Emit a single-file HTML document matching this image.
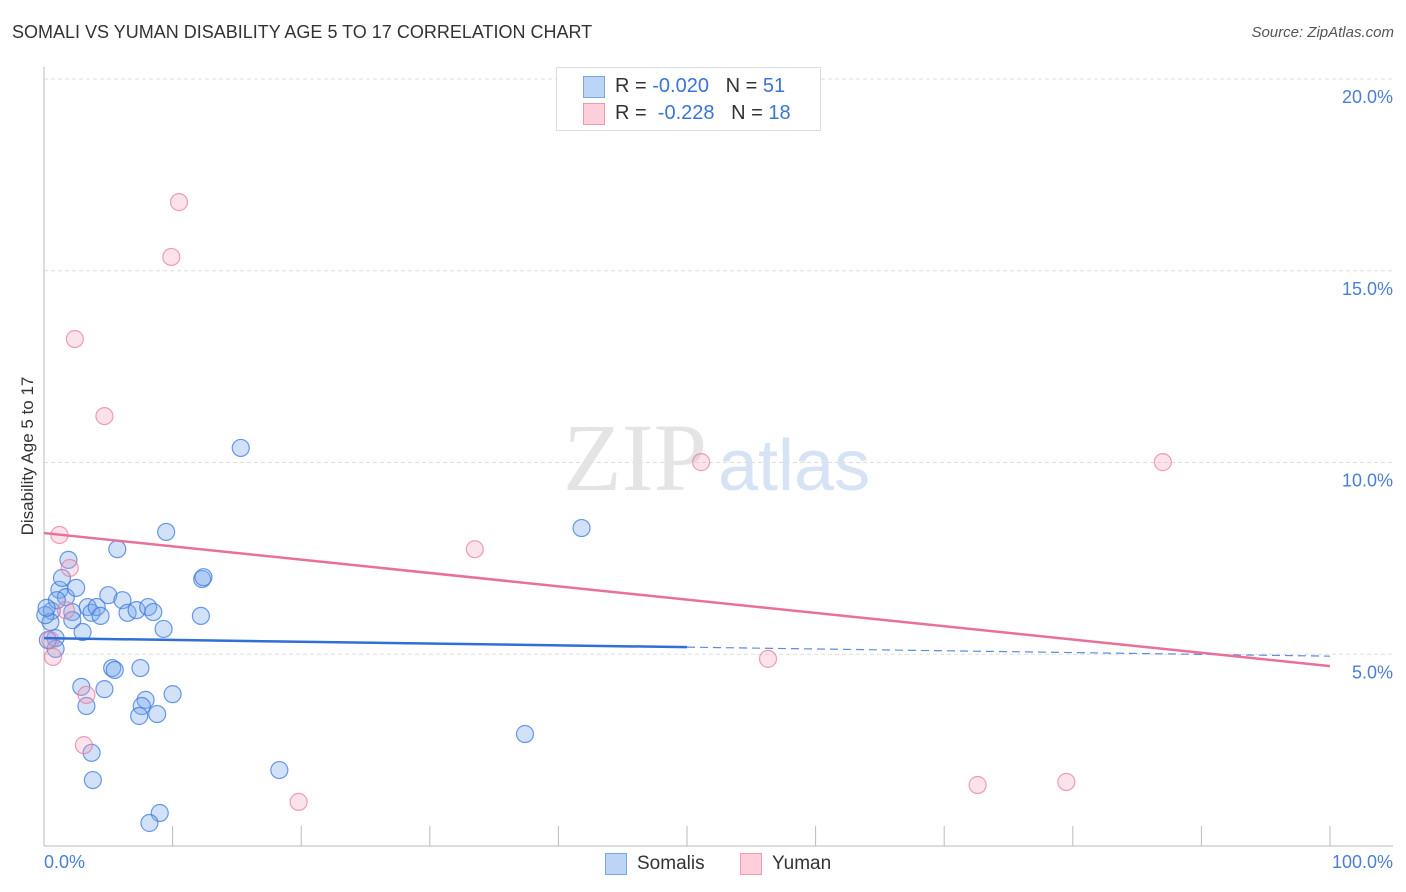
<!DOCTYPE html>
<html><head><meta charset="utf-8"><style>
body{margin:0;background:#fff;font-family:"Liberation Sans",sans-serif;}
#wrap{position:relative;width:1406px;height:892px;overflow:hidden;}
.t{position:absolute;white-space:nowrap;}
</style></head><body>
<div id="wrap">
<div class="t" style="left:12px;top:22px;font-size:18px;color:#333;">SOMALI VS YUMAN DISABILITY AGE 5 TO 17 CORRELATION CHART</div>
<div class="t" style="right:12px;top:24px;font-size:15px;color:#555;font-style:italic;">Source: ZipAtlas.com</div>
<svg id="svg" width="1406" height="892" style="position:absolute;left:0;top:0"></svg>
</div>
<script>
const somaliX=[0.6,0.5,0.9,0.9,1.2,1.4,1.9,1.7,2.2,2.2,2.5,3.0,3.4,3.7,4.1,4.4,5.0,5.7,6.1,6.5,7.2,8.1,8.5,9.3,9.5,12.3,12.4,12.2,15.3,41.8,37.4,5.3,5.5,7.5,2.9,4.7,3.3,7.9,7.6,7.4,8.8,10.0,3.7,3.8,18.3,9.0,8.2,1.0,0.1,0.2,0.3];
const somaliY=[6.13,5.84,5.42,5.14,6.68,6.99,7.46,6.49,6.10,5.89,6.73,5.58,6.23,6.08,6.23,6.00,6.54,7.74,6.41,6.08,6.15,6.23,6.10,5.66,8.19,6.96,7.01,6.00,10.38,8.29,2.92,4.64,4.59,4.64,4.15,4.09,3.65,3.81,3.65,3.39,3.44,3.96,2.43,1.72,1.98,0.86,0.60,6.41,6.02,6.21,5.37];
const yumanX=[10.5,9.9,2.4,4.7,1.2,2.0,1.7,0.5,0.7,3.3,3.1,19.8,33.5,51.1,56.3,72.6,79.5,87.0];
const yumanY=[16.79,15.36,13.22,11.21,8.11,7.25,6.15,5.37,4.93,3.94,2.63,1.15,7.74,10.01,4.88,1.59,1.67,10.01];
const somaliTrend=[5.42,4.95];
const yumanTrend=[8.16,4.69];
const yTicks=[5,10,15,20];
const yTickLabels=["5.0%","10.0%","15.0%","20.0%"];
const xTicks=[0,10,20,30,40,50,60,70,80,90,100];

const X0=44,X1=1330,Y0=846,PPU=38.35;
const sx=v=>X0+(X1-X0)*v/100;
const sy=v=>Y0-v*PPU;
const svg=document.getElementById('svg');
const NS='http://www.w3.org/2000/svg';
function mk(tag,attrs){const e=document.createElementNS(NS,tag);for(const k in attrs)e.setAttribute(k,attrs[k]);svg.appendChild(e);return e;}

yTicks.forEach((v,i)=>{
  const g=mk('line',{x1:X0,x2:1393,y1:sy(v),y2:sy(v),stroke:'#ddd','stroke-dasharray':'4,3'});
  
  
  const t=mk('text',{x:1393,y:sy(v)+24,'text-anchor':'end','font-size':18,fill:'#4a7fd4','font-family':'Liberation Sans, sans-serif'});
  t.textContent=yTickLabels[i];
  
  
});
const la=mk('line',{x1:X0,x2:X0,y1:67,y2:Y0,stroke:'#bbb'});


const ba=mk('line',{x1:X0,x2:1393,y1:Y0,y2:Y0,stroke:'#bbb'});


xTicks.forEach(v=>{
  const l=mk('line',{x1:sx(v),x2:sx(v),y1:826,y2:Y0,stroke:'#bbb'});
  
  
});
const wm=mk('text',{x:720,y:490,'text-anchor':'middle','font-size':96,fill:'#e4e4e4','font-family':'Liberation Serif, serif'});
wm.textContent='ZIP';


wm.setAttribute('x',635);
const wm2=mk('text',{x:718,y:490,'font-size':72,fill:'#d6e3f5','font-family':'Liberation Sans, sans-serif'});
wm2.textContent='atlas';



function pts(xs,ys,fill,stroke,name){
  xs.forEach((x,i)=>{
    const c=mk('circle',{cx:sx(x),cy:sy(ys[i]),r:8.5,fill:fill,stroke:stroke,'stroke-width':1.2});
    
    
  });
}
pts(somaliX,somaliY,'rgba(120,170,235,0.35)','rgba(60,120,220,0.75)','somali-point');
pts(yumanX,yumanY,'rgba(245,160,185,0.3)','rgba(230,120,155,0.7)','yuman-point');

const sMid=somaliTrend[0]+(somaliTrend[1]-somaliTrend[0])*0.5;
const t1=mk('line',{x1:sx(0),y1:sy(somaliTrend[0]),x2:sx(50),y2:sy(sMid),stroke:'#2f6fd6','stroke-width':2.5});


const t2=mk('line',{x1:sx(50),y1:sy(sMid),x2:sx(100),y2:sy(somaliTrend[1]),stroke:'#5a8fdc','stroke-width':1.2,'stroke-dasharray':'8,5'});


const t3=mk('line',{x1:sx(0),y1:sy(yumanTrend[0]),x2:sx(100),y2:sy(yumanTrend[1]),stroke:'#e8709a','stroke-width':2.5});


</script>
<div class="t" style="left:18px;top:456px;transform:translate(-50%,-50%) rotate(-90deg);transform-origin:center;left:28px;font-size:17px;color:#333;">Disability Age 5 to 17</div>
<div class="t" style="left:44px;top:852px;font-size:18px;color:#4a7fd4;">0.0%</div>
<div class="t" style="right:13px;top:852px;font-size:18px;color:#4a7fd4;">100.0%</div>
<div style="position:absolute;left:556px;top:67px;width:263px;height:62px;border:1px solid #ddd;background:#fff;">
 <div style="position:absolute;left:26px;top:8px;width:20px;height:20px;background:#bcd5f7;border:1px solid #7aa6e6;"></div>
 <div class="t" style="left:58px;top:7px;font-size:20px;color:#333;">R = <span style="color:#3a74d6">-0.020</span>&nbsp;&nbsp;&nbsp;N = <span style="color:#3a74d6">51</span></div>
 <div style="position:absolute;left:26px;top:35px;width:20px;height:20px;background:#fccfdb;border:1px solid #ec9ab4;"></div>
 <div class="t" style="left:58px;top:34px;font-size:20px;color:#333;">R = &nbsp;<span style="color:#3a74d6">-0.228</span>&nbsp;&nbsp;&nbsp;N = <span style="color:#3a74d6">18</span></div>
</div>
<div style="position:absolute;left:605px;top:853px;width:20px;height:20px;background:#bcd5f7;border:1px solid #7aa6e6;"></div>
<div class="t" style="left:637px;top:853px;font-size:19px;color:#333;">Somalis</div>
<div style="position:absolute;left:740px;top:853px;width:20px;height:20px;background:#fccfdb;border:1px solid #ec9ab4;"></div>
<div class="t" style="left:772px;top:853px;font-size:19px;color:#333;">Yuman</div>
</body></html>
